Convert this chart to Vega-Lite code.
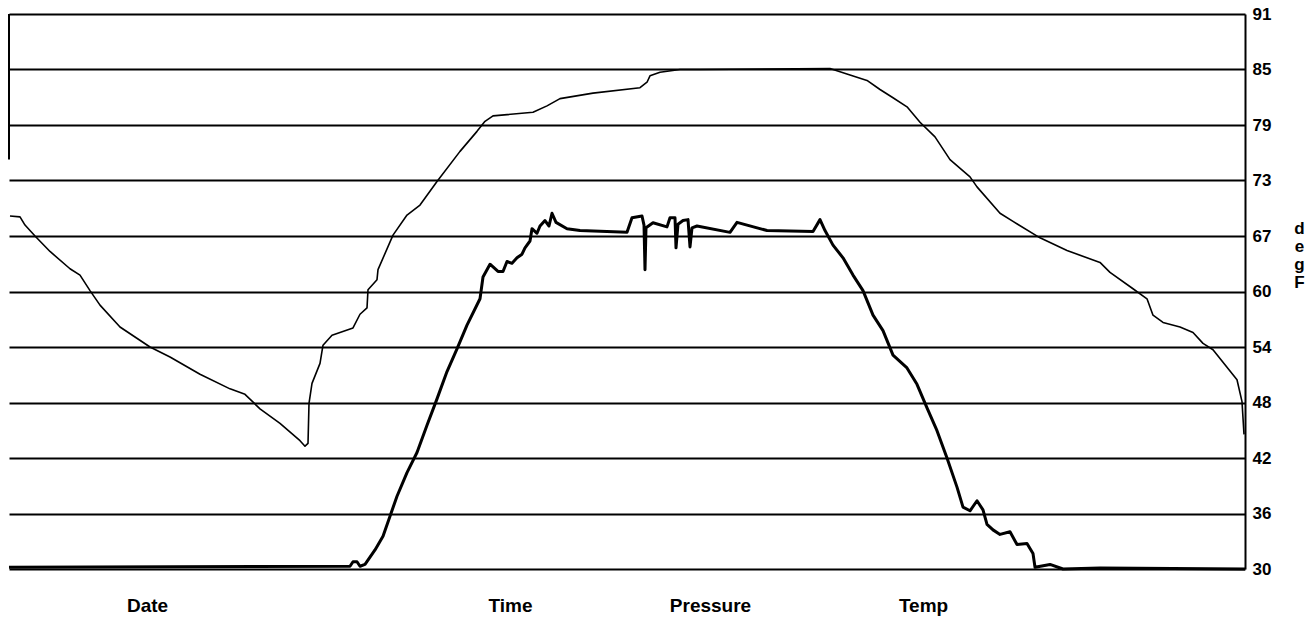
{
  "$schema": "https://vega.github.io/schema/vega-lite/v6.json",
  "width": 1236,
  "height": 555,
  "autosize": {"type": "none"},
  "padding": {"left": 9, "top": 14, "right": 71, "bottom": 62},
  "background": "white",
  "config": {"view": {"stroke": null}, "font": "Liberation Sans"},
  "datasets": {
    "outer": [
      {"x": 10, "y": 68.8}, {"x": 20, "y": 68.7}, {"x": 25, "y": 67.8}, {"x": 35, "y": 66.6}, {"x": 50, "y": 64.9},
      {"x": 70, "y": 63.0}, {"x": 80, "y": 62.3}, {"x": 90, "y": 60.6}, {"x": 100, "y": 59.0}, {"x": 120, "y": 56.6},
      {"x": 150, "y": 54.4}, {"x": 170, "y": 53.3}, {"x": 200, "y": 51.4}, {"x": 230, "y": 49.8}, {"x": 245, "y": 49.2},
      {"x": 260, "y": 47.6}, {"x": 280, "y": 46.0}, {"x": 300, "y": 44.1}, {"x": 305, "y": 43.5}, {"x": 308, "y": 43.8},
      {"x": 309, "y": 48.2}, {"x": 312, "y": 50.4}, {"x": 320, "y": 52.6}, {"x": 323, "y": 54.6}, {"x": 332, "y": 55.7},
      {"x": 353, "y": 56.5}, {"x": 360, "y": 58.0}, {"x": 367, "y": 58.7}, {"x": 368, "y": 60.7}, {"x": 377, "y": 61.8},
      {"x": 378, "y": 62.9}, {"x": 393, "y": 66.7}, {"x": 407, "y": 68.9}, {"x": 420, "y": 70.0}, {"x": 437, "y": 72.6},
      {"x": 460, "y": 75.9}, {"x": 477, "y": 78.1}, {"x": 485, "y": 79.2}, {"x": 493, "y": 79.8}, {"x": 533, "y": 80.2},
      {"x": 547, "y": 80.9}, {"x": 560, "y": 81.7}, {"x": 593, "y": 82.3}, {"x": 640, "y": 82.9}, {"x": 647, "y": 83.5},
      {"x": 650, "y": 84.2}, {"x": 660, "y": 84.6}, {"x": 680, "y": 84.9}, {"x": 700, "y": 84.9}, {"x": 830, "y": 85.0},
      {"x": 850, "y": 84.3}, {"x": 867, "y": 83.7}, {"x": 880, "y": 82.7}, {"x": 893, "y": 81.8}, {"x": 907, "y": 80.8},
      {"x": 920, "y": 79.1}, {"x": 935, "y": 77.5}, {"x": 950, "y": 75.0}, {"x": 970, "y": 73.1}, {"x": 977, "y": 72.0},
      {"x": 1000, "y": 69.1}, {"x": 1013, "y": 68.2}, {"x": 1040, "y": 66.4}, {"x": 1067, "y": 65.0}, {"x": 1100, "y": 63.7},
      {"x": 1110, "y": 62.6}, {"x": 1133, "y": 60.8}, {"x": 1147, "y": 59.7}, {"x": 1153, "y": 57.9}, {"x": 1163, "y": 57.1},
      {"x": 1180, "y": 56.6}, {"x": 1193, "y": 56.0}, {"x": 1203, "y": 54.8}, {"x": 1213, "y": 54.1}, {"x": 1237, "y": 50.8},
      {"x": 1242, "y": 48.4}, {"x": 1244, "y": 44.8}
    ],
    "inner": [
      {"x": 9, "y": 30.2}, {"x": 350, "y": 30.3}, {"x": 353, "y": 30.8}, {"x": 357, "y": 30.8}, {"x": 360, "y": 30.3},
      {"x": 365, "y": 30.5}, {"x": 375, "y": 32.1}, {"x": 383, "y": 33.6}, {"x": 390, "y": 35.8}, {"x": 397, "y": 38.0},
      {"x": 407, "y": 40.6}, {"x": 417, "y": 42.8}, {"x": 427, "y": 45.8}, {"x": 437, "y": 48.7}, {"x": 447, "y": 51.7},
      {"x": 457, "y": 54.2}, {"x": 467, "y": 56.8}, {"x": 480, "y": 59.7}, {"x": 483, "y": 62.1}, {"x": 490, "y": 63.5},
      {"x": 498, "y": 62.7}, {"x": 503, "y": 62.7}, {"x": 507, "y": 63.8}, {"x": 512, "y": 63.6}, {"x": 517, "y": 64.2},
      {"x": 522, "y": 64.6}, {"x": 525, "y": 65.3}, {"x": 530, "y": 66.05}, {"x": 532, "y": 67.4}, {"x": 537, "y": 66.9},
      {"x": 540, "y": 67.7}, {"x": 545, "y": 68.3}, {"x": 549, "y": 67.7}, {"x": 552, "y": 69.1}, {"x": 556, "y": 68.1},
      {"x": 567, "y": 67.4}, {"x": 580, "y": 67.2}, {"x": 627, "y": 67.0}, {"x": 632, "y": 68.6}, {"x": 642, "y": 68.8},
      {"x": 644, "y": 67.8}, {"x": 645, "y": 62.9}, {"x": 646, "y": 67.5}, {"x": 653, "y": 68.05}, {"x": 667, "y": 67.6},
      {"x": 670, "y": 68.6}, {"x": 675, "y": 68.6}, {"x": 676, "y": 65.3}, {"x": 678, "y": 67.9}, {"x": 683, "y": 68.3},
      {"x": 688, "y": 68.4}, {"x": 690, "y": 65.4}, {"x": 692, "y": 67.5}, {"x": 697, "y": 67.7}, {"x": 730, "y": 67.0},
      {"x": 737, "y": 68.1}, {"x": 767, "y": 67.2}, {"x": 813, "y": 67.1}, {"x": 820, "y": 68.4}, {"x": 825, "y": 67.2},
      {"x": 833, "y": 65.6}, {"x": 843, "y": 64.2}, {"x": 853, "y": 62.3}, {"x": 863, "y": 60.6}, {"x": 873, "y": 57.9},
      {"x": 883, "y": 56.2}, {"x": 893, "y": 53.5}, {"x": 907, "y": 52.1}, {"x": 917, "y": 50.3}, {"x": 927, "y": 47.7},
      {"x": 937, "y": 45.2}, {"x": 947, "y": 42.2}, {"x": 957, "y": 39.0}, {"x": 963, "y": 36.8}, {"x": 970, "y": 36.4},
      {"x": 977, "y": 37.5}, {"x": 983, "y": 36.5}, {"x": 987, "y": 34.9}, {"x": 993, "y": 34.3}, {"x": 1000, "y": 33.8},
      {"x": 1010, "y": 34.1}, {"x": 1017, "y": 32.7}, {"x": 1027, "y": 32.8}, {"x": 1033, "y": 31.7}, {"x": 1035, "y": 30.2},
      {"x": 1050, "y": 30.5}, {"x": 1063, "y": 30.0}, {"x": 1100, "y": 30.1}, {"x": 1245, "y": 30.0}
    ]
  },
  "encoding": {
    "x": {
      "field": "x",
      "type": "quantitative",
      "scale": {"domain": [9, 1245], "nice": false, "zero": false},
      "axis": {
        "orient": "bottom",
        "values": [147, 510, 710, 923],
        "labelExpr": "datum.value == 147 ? 'Date' : datum.value == 510 ? 'Time' : datum.value == 710 ? 'Pressure' : 'Temp'",
        "domain": false,
        "ticks": false,
        "tickSize": 0,
        "grid": false,
        "title": null,
        "labelFontSize": 19,
        "labelFontWeight": "bold",
        "labelPadding": 27,
        "labelColor": "black",
        "labelFlush": false,
        "labelOverlap": false
      }
    },
    "y": {
      "field": "y",
      "type": "quantitative",
      "scale": {"domain": [30, 91], "nice": false, "zero": false},
      "axis": {
        "orient": "right",
        "values": [30, 36.1, 42.2, 48.3, 54.4, 60.5, 66.6, 72.7, 78.8, 84.9, 91],
        "labelExpr": "(datum.value > 60.4 && datum.value < 60.6) ? '60' : format(datum.value, '.0f')",
        "grid": true,
        "gridColor": "black",
        "gridWidth": 2,
        "gridOpacity": 1,
        "domain": true,
        "domainColor": "black",
        "domainWidth": 2,
        "ticks": false,
        "tickSize": 0,
        "labelPadding": 7,
        "labelFontSize": 17,
        "labelFontWeight": "bold",
        "labelColor": "black",
        "labelBaseline": "middle",
        "labelFlush": false,
        "labelOverlap": false,
        "title": ["d", "e", "g", "F"],
        "titleAngle": 0,
        "titleAlign": "center",
        "titleBaseline": "middle",
        "titleX": 54,
        "titleY": 214,
        "titleFontSize": 17,
        "titleFontWeight": "bold",
        "titleLineHeight": 18,
        "titleColor": "black"
      }
    }
  },
  "layer": [
    {
      "data": {"values": [{"x": 9, "y": 75, "y2": 91}]},
      "mark": {"type": "rule", "color": "black", "strokeWidth": 2},
      "encoding": {"y2": {"field": "y2"}}
    },
    {
      "data": {"name": "outer"},
      "mark": {"type": "line", "color": "black", "strokeWidth": 1.6, "strokeJoin": "round"}
    },
    {
      "data": {"name": "inner"},
      "mark": {"type": "line", "color": "black", "strokeWidth": 3, "strokeJoin": "round"}
    }
  ]
}
